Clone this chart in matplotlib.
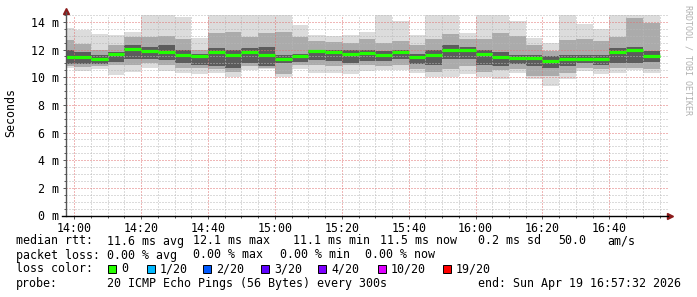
import datetime as dt
import matplotlib
matplotlib.use("Agg")
import matplotlib.pyplot as plt
import matplotlib.dates as mdates
from matplotlib.patches import Rectangle
from matplotlib.ticker import FuncFormatter, MultipleLocator

plt.rcParams['font.family'] = ['DejaVu Sans Mono']

# time window shown and 5-minute bins (first bin is partial)
t_start = dt.datetime(2026, 4, 19, 13, 57, 32)
t_end = dt.datetime(2026, 4, 19, 16, 57, 32)
bin_ends = [dt.datetime(2026, 4, 19, 14, 0) + dt.timedelta(minutes=5 * k) for k in range(36)]

# median rtt per bin (ms)
med = [11.45, 11.47, 11.35, 11.67, 12.05, 11.90, 11.84, 11.64, 11.50, 11.81, 11.60, 11.79,
       11.60, 11.31, 11.50, 11.93, 11.81, 11.69, 11.76, 11.61, 11.81, 11.45, 11.64, 11.98,
       11.96, 11.69, 11.45, 11.38, 11.38, 11.14, 11.31, 11.33, 11.35, 11.79, 11.98, 11.53]
# smoke: spread of the 20 pings in each bin
hi = [13.57, 13.38, 13.16, 13.07, 13.30, 14.60, 14.60, 14.35, 12.87, 14.60, 14.60, 14.60,
      14.60, 14.60, 13.79, 13.07, 12.99, 13.07, 13.30, 14.60, 14.05, 13.04, 14.60, 14.60,
      13.19, 14.60, 14.60, 14.05, 12.85, 12.51, 14.60, 13.86, 13.52, 14.60, 14.60, 14.60]
p90 = [12.70, 12.40, 12.00, 12.34, 12.90, 12.90, 13.00, 12.75, 12.00, 13.20, 13.30, 12.90,
       13.20, 13.30, 12.90, 12.60, 12.55, 12.45, 12.80, 12.50, 12.60, 12.30, 12.80, 13.10,
       12.80, 12.80, 13.20, 13.00, 12.35, 11.90, 12.70, 12.80, 12.60, 12.90, 14.30, 13.90]
q3 = [12.00, 11.85, 11.60, 11.85, 12.30, 12.20, 12.30, 12.00, 11.70, 12.10, 11.95, 12.10,
      12.20, 11.60, 11.70, 12.00, 12.00, 11.98, 12.00, 11.90, 12.00, 11.70, 12.00, 12.30,
      12.20, 12.00, 11.80, 11.60, 11.60, 11.50, 11.60, 11.60, 11.60, 12.10, 12.20, 11.90]
q1 = [10.95, 10.95, 10.95, 11.10, 11.30, 11.30, 11.26, 11.00, 10.90, 10.80, 10.70, 11.00,
      10.80, 11.00, 11.10, 11.26, 11.20, 11.00, 11.20, 11.15, 11.30, 10.95, 10.90, 11.30,
      11.30, 10.90, 10.80, 10.95, 10.80, 10.70, 10.80, 11.00, 10.90, 11.00, 11.00, 11.10]
p10 = [10.80, 10.75, 10.80, 10.90, 10.90, 11.00, 10.90, 10.70, 10.70, 10.60, 10.40, 10.80,
       10.70, 10.20, 10.90, 10.90, 10.80, 10.90, 10.90, 10.80, 10.90, 10.60, 10.40, 10.60,
       10.80, 10.40, 10.50, 10.60, 10.10, 10.10, 10.30, 10.70, 10.60, 10.70, 10.70, 10.60]
lo = [10.66, 10.48, 10.58, 10.17, 10.41, 10.66, 10.48, 10.34, 10.20, 10.34, 10.00, 10.49,
      10.59, 10.00, 10.59, 10.34, 10.30, 10.25, 10.44, 10.49, 10.53, 10.30, 10.00, 10.00,
      10.25, 10.05, 9.90, 10.34, 9.90, 9.38, 9.90, 10.44, 10.20, 10.34, 10.53, 10.34]

loss_labels = ['0', '1/20', '2/20', '3/20', '4/20', '10/20', '19/20']
loss_colors = ['#26ff00', '#00b8ff', '#0059ff', '#5e00ff', '#7e00ff', '#dd00ff', '#ff0000']

W, H = 697, 297


def fx(px):
    return px / W


def fy(py):
    return 1 - py / H


fig = plt.figure(figsize=(W / 100, H / 100), dpi=100, facecolor='white')
ax = fig.add_axes([fx(66), fy(215.5), 602 / W, 200.5 / H])

edges = mdates.date2num([t_start] + bin_ends)

# smoke, lightest to darkest
ax.stairs(hi, edges, baseline=lo, fill=True, color='#dcdcdc', lw=0)
ax.stairs(p90, edges, baseline=p10, fill=True, color='#ababab', lw=0)
ax.stairs(q3, edges, baseline=q1, fill=True, color='#5c5c5c', lw=0)
ax.hlines(med, edges[:-1], edges[1:], colors='#22ff00', lw=2.3, zorder=3)

ax.set_xlim(mdates.date2num(t_start), mdates.date2num(t_end))
ax.set_ylim(0, 14.5)

ax.xaxis.set_major_locator(mdates.MinuteLocator(byminute=[0, 20, 40]))
ax.xaxis.set_minor_locator(mdates.MinuteLocator(byminute=range(0, 60, 5)))
ax.xaxis.set_major_formatter(mdates.DateFormatter('%H:%M'))
ax.yaxis.set_major_locator(MultipleLocator(2))
ax.yaxis.set_minor_locator(MultipleLocator(0.5))
ax.yaxis.set_major_formatter(FuncFormatter(lambda v, p: f'{v:.0f} m'))

ax.grid(which='minor', color='#b8b8b8', ls=(0, (1, 2)), lw=0.72, zorder=4)
ax.grid(which='major', color='#e07070', ls=(0, (1, 2)), lw=0.72, zorder=4)
ax.set_axisbelow(False)

ax.tick_params(which='both', labelsize=8.4, length=2, width=0.7, color='#555555', pad=3)
ax.tick_params(which='minor', length=1.5)

for s in ax.spines.values():
    s.set_visible(False)

# axis lines with arrows
ax.plot([0, 0], [0, 1.015], transform=ax.transAxes, color='#555555', lw=1, clip_on=False, zorder=5)
ax.plot([-0.007, 1.0], [0, 0], transform=ax.transAxes, color='black', lw=1, clip_on=False, zorder=5)
ax.plot([0], [1.02], marker='^', ms=4, color='#8b1a1a', transform=ax.transAxes, clip_on=False)
ax.plot([1.004], [0], marker='>', ms=4, color='#8b1a1a', transform=ax.transAxes, clip_on=False)

fs = 8.4
fig.text(fx(11), fy(113), 'Seconds', rotation=90, ha='center', va='center', fontsize=fs)
fig.text(fx(688), fy(60), 'RRDTOOL / TOBI OETIKER', rotation=270, ha='center', va='center',
         fontsize=6, color='#b0b0b0')

# legend lines
row1 = [(16, 'median rtt:'), (107, '11.6 ms avg'), (193, '12.1 ms max'), (293, '11.1 ms min'),
        (380, '11.5 ms now'), (478, '0.2 ms sd'), (558, '50.0'), (607, 'am/s')]
row2 = [(16, 'packet loss:'), (107, '0.00 % avg'), (193, '0.00 % max'), (280, '0.00 % min'),
        (365, '0.00 % now')]
row4 = [(16, 'probe:'), (107, '20 ICMP Echo Pings (56 Bytes) every 300s'),
        (478, 'end: Sun Apr 19 16:57:32 2026')]
for y, row in [(241, row1), (255, row2), (283, row4)]:
    for x, s in row:
        fig.text(fx(x), fy(y), s, ha='left', va='center', fontsize=fs)

fig.text(fx(16), fy(269), 'loss color:', ha='left', va='center', fontsize=fs)
box_x = [108, 147, 203, 261, 318, 378, 443]
for bx, lab, col in zip(box_x, loss_labels, loss_colors):
    fig.patches.append(Rectangle((fx(bx), fy(273)), 8 / W, 8 / H, transform=fig.transFigure,
                                 facecolor=col, edgecolor='black', lw=0.7))
    fig.text(fx(bx + 13), fy(269), lab, ha='left', va='center', fontsize=fs)

fig.savefig('out.png', dpi=100, facecolor='white')
